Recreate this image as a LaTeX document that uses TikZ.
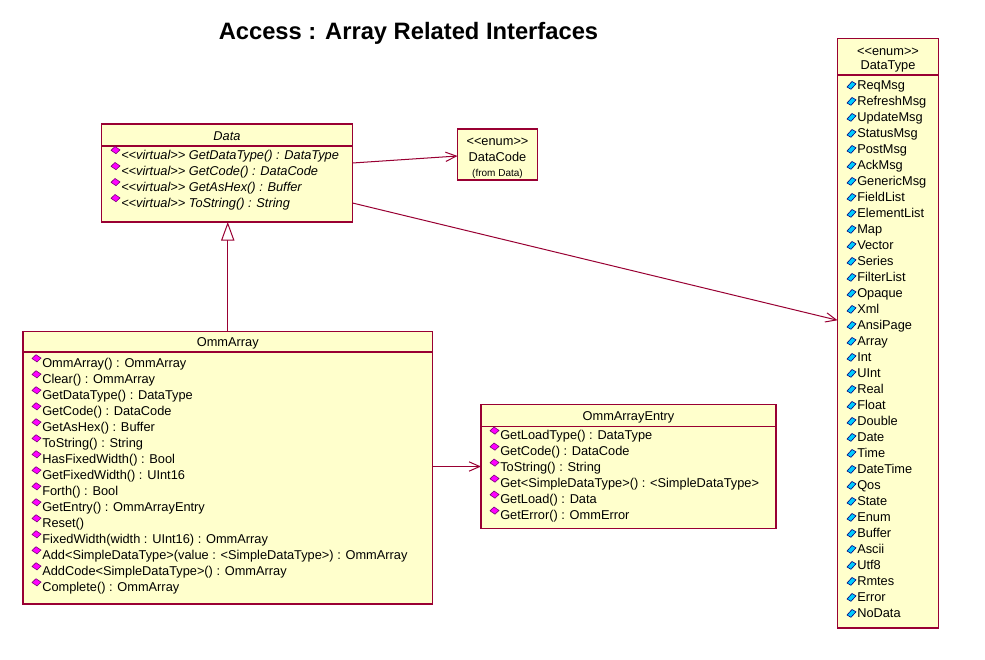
\documentclass[tikz,border=0pt]{standalone}
\usepackage{fontspec}
\setmainfont{Liberation Sans}[Ligatures=TeXOff]
\usetikzlibrary{arrows.meta,calc}
\definecolor{umlline}{RGB}{153,0,51}
\definecolor{umlfill}{RGB}{255,255,204}
\definecolor{opmag}{RGB}{255,0,255}
\definecolor{opmagdk}{RGB}{120,0,120}
\definecolor{atcyan}{RGB}{0,204,255}
\definecolor{atcyandk}{RGB}{0,0,128}
\tikzset{
 umlbox/.style={draw=umlline, fill=umlfill, line width=0.9pt, inner sep=0pt, outer sep=0pt},
 sepline/.style={draw=umlline, line width=0.9pt},
 itemtxt/.style={anchor=base west, inner sep=0pt, font=\fontsize{9.6}{11}\selectfont},
 itemit/.style={itemtxt, font=\fontsize{9.6}{11}\selectfont\itshape},
 hdr/.style={anchor=base, inner sep=0pt, font=\fontsize{9.6}{11}\selectfont},
 conn/.style={draw=umlline, line width=0.75pt},
 assoc/.style={conn, -{Straight Barb[length=8pt,width=7pt]}},
 gener/.style={conn, -{Triangle[length=14pt,width=10pt,fill=white]}},
 opicon/.pic={\filldraw[fill=opmag, draw=opmagdk, line width=0.45pt] (-10,-4.2) -- (-6,-8) -- (-1,-4.6) -- (-5,-0.8) -- cycle;},
 aticon/.pic={\filldraw[fill=atcyan, draw=atcyandk, line width=0.45pt] (-10,2) -- (-5,-3.5) -- (-1,-1.2) -- (-6,4.3) -- cycle;},
}
\begin{document}
\begin{tikzpicture}[x=0.75pt,y=-0.75pt]
\useasboundingbox[fill=white] (0,0) rectangle (985,660);

% title
\node[anchor=base, inner sep=0pt, font=\fontsize{17.8}{20}\selectfont\bfseries] (title) at (408.5,39.5) {Access : Array Related Interfaces};

% boxes
\node[umlbox, minimum width=188.25pt, minimum height=73.5pt] (data) at (227,173) {};
\node[umlbox, minimum width=60pt, minimum height=38.25pt] (datacode) at (497.5,154.5) {};
\node[umlbox, minimum width=307.125pt, minimum height=204.375pt] (oa) at (227.75,467.75) {};
\node[umlbox, minimum width=221.25pt, minimum height=93pt] (entry) at (628.5,466.5) {};
\node[umlbox, minimum width=75.75pt, minimum height=442.125pt] (dtype) at (888,333.25) {};

% separators
\draw[sepline] (data.west |- 0,146) -- (data.east |- 0,146);
\draw[sepline] (oa.west |- 0,352) -- (oa.east |- 0,352);
\draw[sepline] (entry.west |- 0,426.5) -- (entry.east |- 0,426.5);
\draw[sepline] (dtype.west |- 0,75) -- (dtype.east |- 0,75);

% Data
\node[hdr, font=\fontsize{9.6}{11}\selectfont\itshape] (datah) at (227,140.6) {Data};
\foreach \t [count=\i from 0] in {{<<virtual>> GetDataType() : DataType},{<<virtual>> GetCode() : DataCode},{<<virtual>> GetAsHex() : Buffer},{<<virtual>> ToString() : String}}{
  \pic at (121,{154.5+16*\i}) {opicon};
  \node[itemit] (d\i) at (121,{159.1+16*\i}) {\t};
}

% DataCode
\node[hdr] (dcs) at (497.5,145.3) {<<enum>>};
\node[hdr] (dcn) at (497.5,161.9) {DataCode};
\node[hdr, font=\fontsize{7.5}{9}\selectfont] (dcf) at (497.5,176.3) {(from Data)};

% OmmArray
\node[hdr] (oah) at (227.75,346.3) {OmmArray};
\foreach \t [count=\i from 0] in {{OmmArray() : OmmArray},{Clear() : OmmArray},{GetDataType() : DataType},{GetCode() : DataCode},{GetAsHex() : Buffer},{ToString() : String},{HasFixedWidth() : Bool},{GetFixedWidth() : UInt16},{Forth() : Bool},{GetEntry() : OmmArrayEntry},{Reset()},{FixedWidth(width : UInt16) : OmmArray},{Add<SimpleDataType>(value : <SimpleDataType>) : OmmArray},{AddCode<SimpleDataType>() : OmmArray},{Complete() : OmmArray}}{
  \pic at (42,{362.7+16*\i}) {opicon};
  \node[itemtxt] (o\i) at (42,{367.3+16*\i}) {\t};
}

% OmmArrayEntry
\node[hdr] (enh) at (628.5,420.6) {OmmArrayEntry};
\foreach \t [count=\i from 0] in {{GetLoadType() : DataType},{GetCode() : DataCode},{ToString() : String},{Get<SimpleDataType>() : <SimpleDataType>},{GetLoad() : Data},{GetError() : OmmError}}{
  \pic at (500,{435+16*\i}) {opicon};
  \node[itemtxt] (e\i) at (500,{439.6+16*\i}) {\t};
}

% DataType
\node[hdr] (dts) at (888,55.3) {<<enum>>};
\node[hdr] (dtn) at (888,69.6) {DataType};
\foreach \t [count=\i from 0] in {ReqMsg,RefreshMsg,UpdateMsg,StatusMsg,PostMsg,AckMsg,GenericMsg,FieldList,ElementList,Map,Vector,Series,FilterList,Opaque,Xml,AnsiPage,Array,Int,UInt,Real,Float,Double,Date,Time,DateTime,Qos,State,Enum,Buffer,Ascii,Utf8,Rmtes,Error,NoData}{
  \pic at (857,{85+16*\i}) {aticon};
  \node[itemtxt] (t\i) at (857,{89.6+16*\i}) {\t};
}

% connectors
\draw[gener] (oa.north) -- (oa.north |- data.south);
\draw[assoc] ($(data.east)+(0,-10)$) -- ($(datacode.west)+(0,1.5)$);
\draw[assoc] ($(data.east)+(0,30)$) -- ($(dtype.west)+(0,-13)$);
\draw[assoc] (oa.east |- entry.west) -- (entry.west);
\end{tikzpicture}
\end{document}
